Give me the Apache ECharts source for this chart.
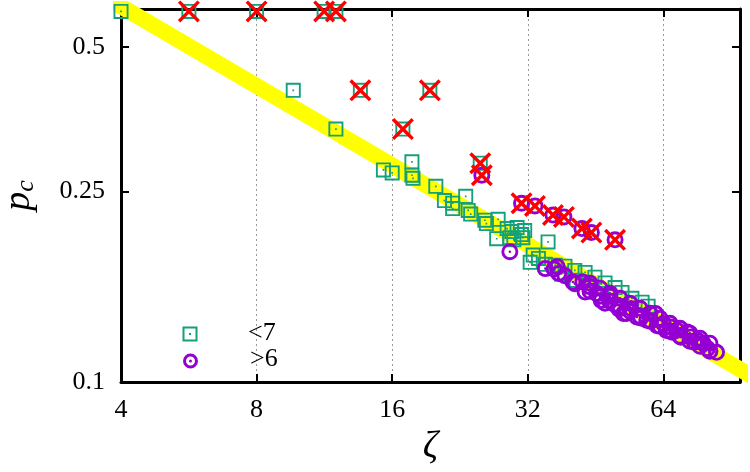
<!DOCTYPE html>
<html>
<head>
<meta charset="utf-8">
<script src="https://cdn.jsdelivr.net/npm/echarts@6/dist/echarts.min.js"></script>
<style>
  html, body { margin: 0; padding: 0; background: #fff; }
  #chart { width: 750px; height: 472px; }
</style>
</head>
<body>
<div id="chart"></div>
<script>
// axis ranges and ticks (zeta is log2, p_c is log10)
var xRange = [4, 94.7];
var xTicks = [4, 8, 16, 32, 64];
var yRange = [0.1, 0.6];
var yTicks = [0.1, 0.25, 0.5];

// fitted power law band, read at its two ends
var fitLine = [[3.5, 0.654], [110, 0.0979]];

// "<7" squares  [zeta, p_c]
var lessThan7 = [
    [4, 0.593], [5.66, 0.593], [8, 0.593], [11.3, 0.593], [12, 0.593],
    [9.65, 0.406], [13.6, 0.406], [19.4, 0.406],
    [12.0, 0.337], [16.9, 0.337],
    [15.3, 0.277], [16.0, 0.273],
    [17.7, 0.288], [17.7, 0.270], [17.8, 0.266],
    [20.0, 0.256], [20.9, 0.239], [21.8, 0.236], [21.8, 0.230],
    [23.3, 0.244], [23.6, 0.228], [23.9, 0.224],
    [25.1, 0.286], [25.7, 0.2175], [25.9, 0.214], [27.5, 0.2185], [27.3, 0.199],
    [28.8, 0.209], [29.2, 0.200], [29.5, 0.206], [30.3, 0.210], [31.0, 0.203],
    [31.2, 0.200], [31.5, 0.207], [29.8, 0.198],
    [32.4, 0.1777], [32.9, 0.184], [33.8, 0.181], [35.0, 0.176], [35.5, 0.196],
    [36.8, 0.1753], [38.7, 0.1744], [40.7, 0.1709], [42.9, 0.1693], [45.1, 0.1654],
    [47.5, 0.1609], [50.0, 0.1574], [51.8, 0.1538], [54.5, 0.1495], [57.4, 0.1467],
    [59.2, 0.1439],
    [38.0, 0.168], [41.0, 0.163], [44.0, 0.158], [48.0, 0.153]
];

// ">6" circles  [zeta, p_c]
var moreThan6 = [
    [25.3, 0.270], [31.0, 0.236], [33.2, 0.233], [36.4, 0.223], [38.5, 0.221],
    [42.2, 0.209], [44.3, 0.205], [50.0, 0.198],
    [29.2, 0.187], [35.0, 0.1724], [36.6, 0.172], [37.2, 0.174], [37.5, 0.1685],
    [38.7, 0.1666], [40.3, 0.1616], [40.7, 0.1603], [42.4, 0.1616], [42.9, 0.154],
    [44.0, 0.158], [44.0, 0.1607], [44.0, 0.1546],
    [45.5, 0.153], [46.3, 0.1569], [46.3, 0.1509], [46.6, 0.148], [47.5, 0.146],
    [48.7, 0.151], [48.7, 0.1531], [48.7, 0.1474], [50.0, 0.145],
    [51.0, 0.142], [51.3, 0.1495], [51.3, 0.1438], [52.2, 0.1389], [53.0, 0.139],
    [54.0, 0.1459], [54.0, 0.1404], [54.2, 0.1423], [55.9, 0.1366],
    [56.8, 0.1425], [56.8, 0.1371], [57.0, 0.136], [58.8, 0.1345],
    [59.8, 0.1391], [59.8, 0.1339], [60.0, 0.134], [61.5, 0.1389], [62.0, 0.131],
    [62.9, 0.1358], [62.9, 0.1307], [64.0, 0.1324], [65.0, 0.128],
    [66.2, 0.1326], [66.2, 0.1276], [66.4, 0.1303], [67.0, 0.127], [68.6, 0.1282],
    [69.7, 0.1294], [69.7, 0.1246], [70.0, 0.124], [72.3, 0.1272],
    [73.3, 0.1264], [73.3, 0.1216], [73.7, 0.1242], [75.0, 0.121], [76.2, 0.1222],
    [77.2, 0.1234], [77.2, 0.1187], [78.4, 0.1204], [80.2, 0.1174],
    [81.2, 0.1205], [81.2, 0.1159], [84.0, 0.1153]
];

// red crosses  [zeta, p_c]
var crossed = [
    [5.66, 0.593], [8, 0.593], [11.3, 0.593], [12, 0.593],
    [13.6, 0.406], [19.4, 0.406], [16.9, 0.337],
    [25.1, 0.286], [25.3, 0.270],
    [31.0, 0.236], [33.2, 0.233], [36.4, 0.223], [38.5, 0.221],
    [42.2, 0.209], [44.3, 0.205], [50.0, 0.198]
];

var SQUARE = 'path://M0,0H16V16H0Z M2,2V14H14V2Z M7.1,7.1H8.9V8.9H7.1Z';
var CIRCLE = 'path://M10,0A10,10 0 1,1 10,20A10,10 0 1,1 10,0Z M10,3.4A6.6,6.6 0 1,0 10,16.6A6.6,6.6 0 1,0 10,3.4Z M10,8.5A1.5,1.5 0 1,1 10,11.5A1.5,1.5 0 1,1 10,8.5Z';
var CROSS = 'path://M0,2.2L2.2,0L10,7.8L17.8,0L20,2.2L12.2,10L20,17.8L17.8,20L10,12.2L2.2,20L0,17.8L7.8,10Z';

var GREEN = '#14a07a';
var PURPLE = '#9400d3';
var FONT = 'Liberation Serif';

function toLog(list) {
    return list.map(function (d) {
        return [Math.log2(d[0]), Math.log10(d[1])];
    });
}

var yTickLogs = yTicks.map(function (v) { return Math.log10(v); });

function yLabel(v) {
    for (var i = 0; i < yTicks.length; i++) {
        if (Math.abs(yTickLogs[i] - v) < 1e-6) return String(yTicks[i]);
    }
    return '';
}

function xLabel(v) {
    if (Math.abs(v - Math.round(v)) > 1e-6) return '';
    var t = Math.pow(2, Math.round(v));
    return xTicks.indexOf(t) >= 0 ? String(t) : '';
}

var axisLine = { show: true, onZero: false, lineStyle: { color: '#000', width: 3 } };
var axisTick = { show: true, inside: true, length: 8, lineStyle: { color: '#000', width: 2 } };

var xBase = {
    type: 'value',
    min: Math.log2(xRange[0]),
    max: Math.log2(xRange[1]),
    interval: 1,
    axisLine: axisLine,
    axisTick: axisTick
};

var yBase = {
    type: 'value',
    min: Math.log10(yRange[0]),
    max: Math.log10(yRange[1]),
    axisLine: axisLine
};

var chart = echarts.init(document.getElementById('chart'), null, { renderer: 'canvas' });

var option = {
    animation: false,
    backgroundColor: '#fff',
    grid: { left: 121, right: 10, top: 9, bottom: 90, outerBoundsMode: 'none', containLabel: false },
    xAxis: [
        Object.assign({}, xBase, {
            position: 'bottom',
            axisLabel: {
                formatter: xLabel, fontFamily: FONT, fontSize: 26, color: '#000', margin: 15,
                showMaxLabel: false
            },
            splitLine: { show: true, lineStyle: { type: [2, 3], color: '#999', width: 1 } },
            name: 'ζ',
            nameLocation: 'middle',
            nameGap: 46,
            nameTextStyle: { fontFamily: FONT, fontStyle: 'italic', fontSize: 38, color: '#000' }
        }),
        Object.assign({}, xBase, {
            position: 'top',
            axisLabel: { show: false },
            splitLine: { show: false }
        })
    ],
    yAxis: [
        Object.assign({}, yBase, {
            position: 'left',
            axisTick: Object.assign({}, axisTick, { customValues: yTickLogs }),
            axisLabel: {
                customValues: yTickLogs, formatter: yLabel,
                fontFamily: FONT, fontSize: 26, color: '#000', margin: 16
            },
            splitLine: { show: false },
            name: '{p|p}{c|c}',
            nameLocation: 'middle',
            nameGap: 82,
            nameTextStyle: {
                color: '#000',
                rich: {
                    p: { fontFamily: FONT, fontStyle: 'italic', fontSize: 38, color: '#000' },
                    c: { fontFamily: FONT, fontStyle: 'italic', fontSize: 26, color: '#000',
                         verticalAlign: 'bottom', padding: [14, 0, 0, 0] }
                }
            }
        }),
        Object.assign({}, yBase, {
            position: 'right',
            axisTick: Object.assign({}, axisTick, { customValues: yTickLogs }),
            axisLabel: { show: false },
            splitLine: { show: false }
        })
    ],
    series: [
        {
            type: 'line',
            data: toLog(fitLine),
            showSymbol: false,
            silent: true,
            clip: true,
            lineStyle: { color: '#ffff00', width: 16, cap: 'butt' },
            z: 1
        },
        {
            name: '<7',
            type: 'scatter',
            data: toLog(lessThan7),
            symbol: SQUARE,
            symbolSize: 15,
            itemStyle: { color: GREEN, opacity: 1 },
            z: 2
        },
        {
            name: '>6',
            type: 'scatter',
            data: toLog(moreThan6),
            symbol: CIRCLE,
            symbolSize: 17,
            itemStyle: { color: PURPLE, opacity: 1 },
            z: 3
        },
        {
            type: 'scatter',
            data: toLog(crossed),
            symbol: CROSS,
            symbolSize: 22,
            itemStyle: { color: '#ff0000', opacity: 1 },
            z: 4
        }
    ],
    graphic: [
        // legend, drawn by hand because the samples sit far from their texts
        {
            type: 'rect', z: 10,
            shape: { x: 183.5, y: 327.5, width: 13, height: 13 },
            style: { fill: 'none', stroke: GREEN, lineWidth: 2 }
        },
        {
            type: 'rect', z: 10,
            shape: { x: 189, y: 333, width: 2, height: 2 },
            style: { fill: GREEN }
        },
        {
            type: 'text', z: 10, left: 248, top: 320,
            style: { text: '<7', font: '26px "Liberation Serif"', fill: '#000' }
        },
        {
            type: 'circle', z: 10,
            shape: { cx: 190.5, cy: 361, r: 6 },
            style: { fill: 'none', stroke: PURPLE, lineWidth: 3 }
        },
        {
            type: 'circle', z: 10,
            shape: { cx: 190.5, cy: 361, r: 1.5 },
            style: { fill: PURPLE }
        },
        {
            type: 'text', z: 10, left: 250, top: 346,
            style: { text: '>6', font: '26px "Liberation Serif"', fill: '#000' }
        }
    ]
};

chart.setOption(option);
</script>
</body>
</html>
